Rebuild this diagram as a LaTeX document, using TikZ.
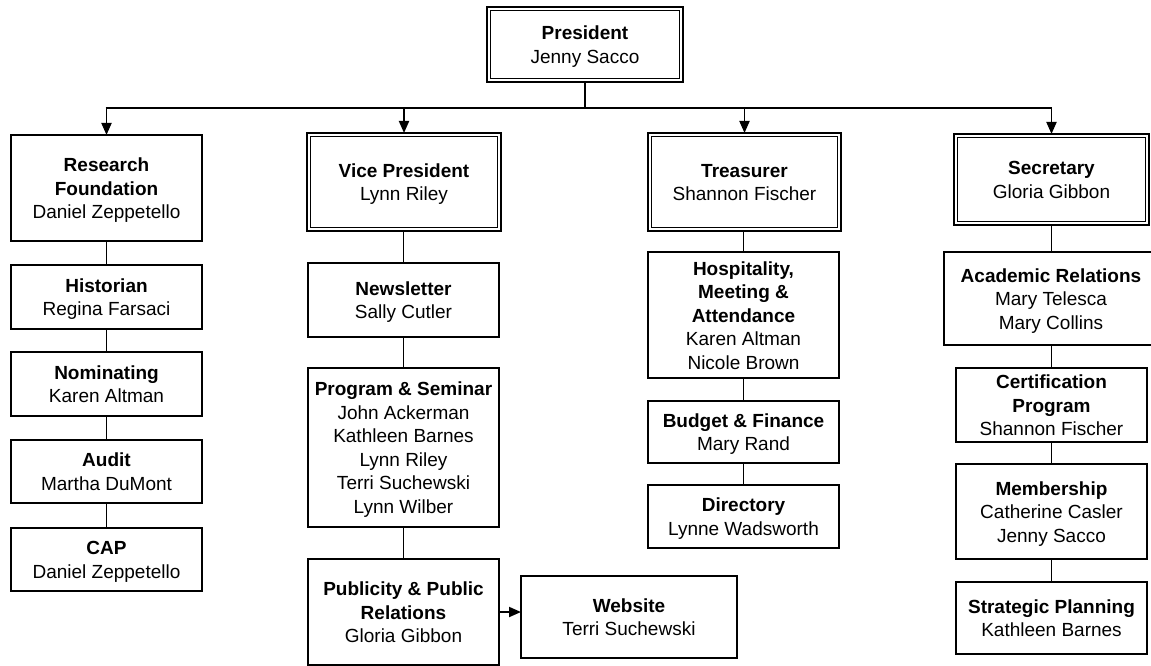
\documentclass[tikz,border=0pt]{standalone}
\usepackage{fontspec}
\setmainfont{Liberation Sans}
\usetikzlibrary{arrows.meta}
\tikzset{
  box/.style={draw, line width=1.9pt, inner sep=0pt, outer sep=0pt, align=center,
    font=\fontsize{19}{23.5}\selectfont},
  dbox/.style={box, line width=2.1pt},
  inner/.style={line width=1.3pt},
  link/.style={line width=1.9pt},
  arr/.style={line width=1.9pt, -{Triangle[length=12pt,width=10pt]}}
}
\newcommand\firststrut{\rule{0pt}{19pt}}
\newcommand\laststrut{\rule[-5pt]{0pt}{5pt}}
% plain box by outer corners
\newcommand\bx[6]{\node[box, minimum width={#4-#2}, minimum height={#5-#3}] (#1) at ({(#2+#4)/2},{(#3+#5)/2}) {\firststrut#6\laststrut};}
% double box by outer corners
\newcommand\dbx[6]{\node[dbox, minimum width={#4-#2-2}, minimum height={#5-#3-2}] (#1) at ({(#2+#4)/2},{(#3+#5)/2}) {\firststrut#6\laststrut};
  \draw[inner] ([shift={(3.8pt,-3.8pt)}]#1.north west) rectangle ([shift={(-3.8pt,3.8pt)}]#1.south east);}
\begin{document}
\begin{tikzpicture}[x=1pt,y=-1pt]
\useasboundingbox (0,0) rectangle (1151,666);
\fill[white] (0,0) rectangle (1151,666);

% top
\dbx{pres}{486}{6}{684}{83}{\textbf{President}\\Jenny Sacco}

% column 1
\bx{rf}{11}{135}{202}{241}{\textbf{Research}\\\textbf{Foundation}\\Daniel Zeppetello}
\bx{hist}{11}{265}{202}{329}{\textbf{Historian}\\Regina Farsaci}
\bx{nom}{11}{352}{202}{416}{\textbf{Nominating}\\Karen Altman}
\bx{aud}{11}{440}{202}{503}{\textbf{Audit}\\Martha DuMont}
\bx{cap}{11}{528}{202}{591}{\textbf{CAP}\\Daniel Zeppetello}

% column 2
\dbx{vp}{306}{132}{502}{232}{\textbf{Vice President}\\Lynn Riley}
\bx{news}{308}{263}{499}{337}{\textbf{Newsletter}\\Sally Cutler}
\bx{prog}{308}{368}{499}{527}{\textbf{Program \& Seminar}\\John Ackerman\\Kathleen Barnes\\Lynn Riley\\Terri Suchewski\\Lynn Wilber}
\bx{pub}{308}{559}{499}{665}{\textbf{Publicity \& Public}\\\textbf{Relations}\\Gloria Gibbon}
\bx{web}{521}{576}{737}{658}{\textbf{Website}\\Terri Suchewski}

% column 3
\dbx{tre}{647}{132}{842}{232}{\textbf{Treasurer}\\Shannon Fischer}
\bx{hosp}{648}{252}{839}{378}{\textbf{Hospitality,}\\\textbf{Meeting \&}\\\textbf{Attendance}\\Karen Altman\\Nicole Brown}
\bx{bud}{648}{401}{839}{463}{\textbf{Budget \& Finance}\\Mary Rand}
\bx{dir}{648}{485}{839}{548}{\textbf{Directory}\\Lynne Wadsworth}

% column 4
\dbx{sec}{953}{133}{1150}{226}{\textbf{Secretary}\\Gloria Gibbon}
\bx{acad}{944}{252}{1158}{345}{\textbf{Academic Relations}\\Mary Telesca\\Mary Collins}
\bx{cert}{956}{368}{1147}{442}{\textbf{Certification}\\\textbf{Program}\\Shannon Fischer}
\bx{mem}{956}{464}{1147}{559}{\textbf{Membership}\\Catherine Casler\\Jenny Sacco}
\bx{strat}{956}{582}{1147}{654}{\textbf{Strategic Planning}\\Kathleen Barnes}

% distribution bar
\coordinate (barmid) at (585,108);
\coordinate (barL) at (106.5,108);
\coordinate (barR) at (1051.5,108);
\draw[link] (pres.south) -- (barmid);
\draw[link] ([xshift=-0.95pt]barL) -- ([xshift=0.95pt]barR);
\draw[arr] (barL) -- (rf.north);
\draw[arr] (vp.north |- barmid) -- (vp.north);
\draw[arr] (tre.north |- barmid) -- (tre.north);
\draw[arr] (barR) -- (sec.north);

% column links
\draw[link] (rf.south) -- (hist.north);
\draw[link] (hist.south) -- (nom.north);
\draw[link] (nom.south) -- (aud.north);
\draw[link] (aud.south) -- (cap.north);

\draw[link] (news.north |- vp.south) -- (news.north);
\draw[link] (news.south) -- (prog.north);
\draw[link] (prog.south) -- (pub.north);
\draw[arr] (pub.east) -- (pub.east -| web.west);

\draw[link] (hosp.north |- tre.south) -- (hosp.north);
\draw[link] (hosp.south) -- (bud.north);
\draw[link] (bud.south) -- (dir.north);

\draw[link] (cert.north |- sec.south) -- (cert.north |- acad.north);
\draw[link] (cert.north |- acad.south) -- (cert.north);
\draw[link] (cert.south) -- (mem.north);
\draw[link] (mem.south) -- (strat.north);
\end{tikzpicture}
\end{document}
